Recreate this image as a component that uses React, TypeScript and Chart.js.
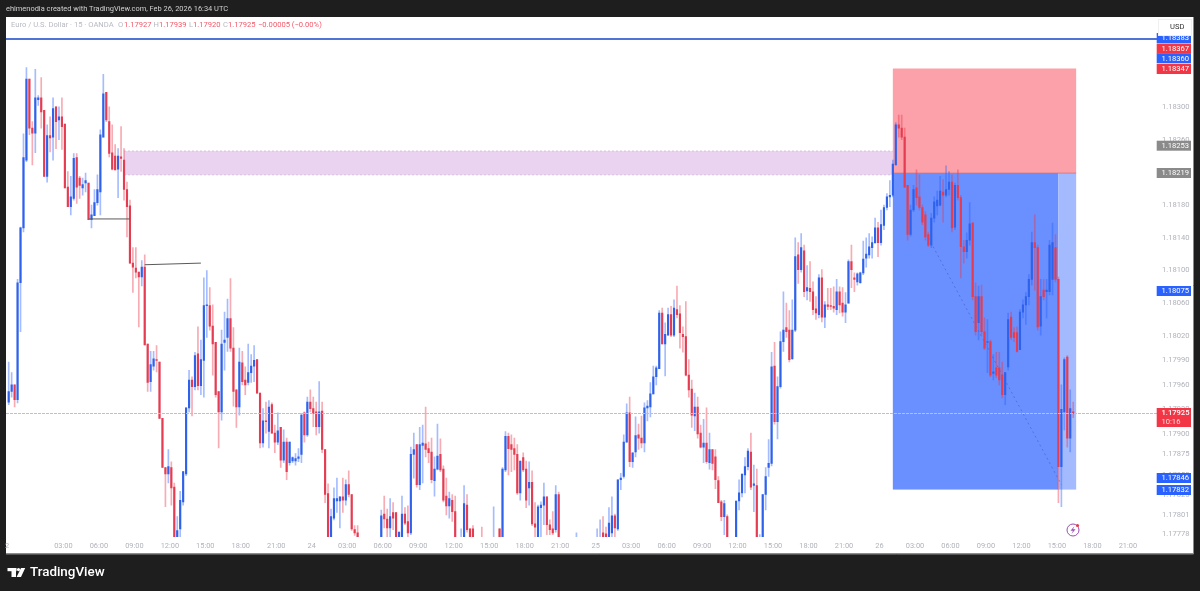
import React, { useEffect, useRef } from "react";
import { Chart, registerables } from "chart.js";

Chart.register(...registerables);

// Quotes are in 1/100000 above 1.0 (17939 = 1.17939)
const opens = [
17939,17952,17960,17942,18085,18152,18235,18334,18274,18268,
18309,18311,18296,18215,18265,18263,18300,18284,18288,18279,
18202,18178,18188,18238,18213,18201,18207,18207,18162,18167,
18183,18196,18263,18318,18282,18244,18240,18224,18239,18235,
18199,18179,18109,18103,18098,18092,18104,18010,17964,17983,
17991,17988,17919,17859,17851,17859,17835,17768,17784,17817,
17851,17932,17966,17958,17998,17959,17990,18057,18057,18032,
18012,17952,17927,18012,18018,18041,18005,17954,17933,17987,
17966,17963,17975,17983,17991,17950,17889,17916,17903,17936,
17901,17890,17908,17868,17890,17865,17867,17867,17870,17875,
17926,17899,17939,17931,17927,17909,17928,17881,17827,17770,
17797,17818,17818,17823,17819,17838,17826,17783,17779,17768,
17762,17760,17758,17762,17766,17768,17768,17802,17796,17785,
17804,17804,17770,17770,17802,17793,17779,17875,17887,17838,
17886,17888,17882,17878,17843,17857,17875,17857,17824,17812,
17819,17805,17770,17762,17770,17813,17784,17784,17770,17764,
17768,17760,17756,17758,17762,17770,17784,17770,17856,17897,
17887,17882,17875,17828,17871,17857,17834,17841,17790,17770,
17810,17813,17823,17789,17784,17783,17826,17770,17762,17756,
17752,17760,17765,17772,17764,17756,17760,17766,17762,17768,
17766,17779,17778,17770,17779,17800,17784,17844,17848,17890,
17926,17866,17878,17899,17895,17889,17932,17933,17949,17970,
17980,18048,18010,18021,18046,18021,18052,18047,18022,18019,
17972,17955,17922,17933,17901,17884,17889,17865,17881,17872,
17843,17817,17799,17799,17770,17766,17770,17818,17828,17850,
17860,17878,17837,17837,17768,17770,17826,17859,17864,17983,
17915,17958,18013,18030,18027,17992,18027,18119,18101,18124,
18075,18078,18074,18053,18046,18091,18043,18058,18057,18056,
18052,18074,18060,18049,18060,18111,18091,18086,18085,18097,
18115,18119,18128,18134,18152,18134,18155,18177,18190,18192,
18229,18278,18274,18263,18204,18144,18174,18201,18190,18177,
18168,18144,18131,18164,18179,18180,18196,18192,18199,18208,
18153,18204,18189,18129,18123,18137,18158,18068,18036,18068,
18025,18012,18013,17974,17981,17981,17972,17948,17982,18043,
18024,18024,18003,18049,18058,18068,18089,18134,18128,18032,
18076,18074,18074,18089,18128,18089,17860,17927,17994,17895,17927,
];
const highs = [
17988,17975,17960,18089,18153,18267,18348,18334,18282,18346,
18314,18336,18296,18278,18288,18311,18300,18300,18311,18279,
18221,18215,18243,18243,18215,18213,18219,18207,18180,18199,
18217,18272,18340,18318,18300,18278,18254,18249,18276,18249,
18208,18186,18128,18128,18098,18112,18119,18010,18001,18001,
18008,17988,17919,17859,17881,17866,17840,17799,17830,17854,
17932,17978,17970,18000,18031,18015,18091,18100,18079,18058,
18012,17952,18027,18049,18065,18090,18030,17954,18005,18001,
17982,18010,17997,18008,17991,17950,17931,17939,17941,17938,
17911,17926,17908,17905,17895,17890,17872,17876,17882,17925,
17927,17945,17954,17945,17939,17964,17939,17881,17839,17808,
17834,17846,17823,17846,17844,17855,17826,17788,17788,17772,
17770,17768,17766,17770,17772,17773,17807,17824,17808,17821,
17816,17804,17780,17824,17810,17812,17884,17901,17887,17908,
17911,17933,17890,17895,17872,17912,17894,17861,17846,17829,
17826,17824,17773,17784,17837,17826,17784,17788,17773,17772,
17786,17770,17768,17770,17811,17773,17784,17859,17903,17901,
17899,17895,17887,17867,17877,17867,17866,17855,17816,17813,
17817,17840,17823,17795,17805,17837,17829,17773,17772,17768,
17765,17770,17779,17773,17772,17768,17770,17772,17772,17784,
17795,17799,17786,17810,17823,17802,17844,17852,17899,17937,
17945,17877,17921,17912,17922,17938,17941,17963,17983,17983,
18051,18054,18036,18054,18056,18064,18081,18057,18031,18062,
17991,17966,17950,17945,17911,17918,17932,17901,17881,17881,
17848,17819,17819,17801,17773,17772,17818,17844,17851,17871,
17882,17901,17862,17857,17777,17826,17859,17893,18000,18012,
17970,18025,18074,18060,18051,18064,18140,18134,18145,18131,
18106,18111,18086,18068,18095,18101,18062,18078,18078,18080,
18089,18080,18079,18073,18113,18131,18097,18097,18098,18136,
18140,18145,18141,18164,18159,18174,18180,18194,18210,18235,
18281,18290,18290,18274,18204,18180,18204,18223,18217,18180,
18172,18147,18170,18190,18197,18215,18211,18228,18221,18217,
18207,18223,18192,18137,18146,18183,18159,18085,18081,18082,
18042,18040,18015,17997,18000,18000,17988,17975,18048,18049,
18030,18031,18052,18064,18073,18095,18147,18168,18131,18089,
18089,18089,18137,18158,18144,18092,17960,17993,17996,17954,17939,
];
const lows = [
17936,17945,17933,17938,18025,18147,18233,18266,18229,18244,
18302,18274,18215,18208,18245,18235,18249,18260,18248,18201,
18178,18168,18186,18182,18188,18192,18196,18162,18152,18167,
18180,18168,18263,18282,18239,18223,18223,18189,18221,18186,
18141,18109,18073,18091,18031,18081,18009,17952,17952,17978,
17976,17919,17859,17811,17840,17813,17770,17765,17772,17813,
17849,17927,17922,17954,17954,17948,17945,18018,18027,17972,
17945,17883,17917,17978,18001,18001,17934,17908,17923,17960,
17948,17960,17963,17964,17950,17883,17884,17901,17883,17901,
17877,17887,17859,17865,17844,17862,17865,17862,17866,17865,
17890,17897,17927,17909,17899,17901,17877,17816,17770,17768,
17795,17804,17785,17804,17813,17823,17782,17776,17770,17760,
17755,17752,17750,17756,17758,17760,17764,17785,17772,17772,
17783,17768,17766,17768,17789,17772,17777,17846,17835,17832,
17840,17872,17865,17840,17824,17856,17854,17817,17801,17797,
17793,17770,17760,17758,17768,17780,17768,17768,17760,17756,
17755,17752,17750,17752,17755,17760,17768,17768,17854,17850,
17854,17856,17826,17819,17854,17810,17813,17788,17772,17768,
17772,17789,17777,17777,17777,17780,17768,17758,17752,17748,
17746,17752,17755,17760,17752,17750,17754,17756,17755,17760,
17760,17770,17768,17768,17770,17772,17782,17832,17846,17890,
17860,17859,17872,17881,17883,17878,17916,17921,17949,17960,
17980,18010,17971,18021,18019,18019,18042,18005,18000,17971,
17945,17908,17904,17895,17883,17865,17864,17857,17856,17833,
17816,17794,17777,17770,17760,17758,17768,17807,17823,17828,
17856,17832,17805,17770,17760,17768,17807,17848,17861,17912,
17894,17956,18001,18018,17988,17991,18025,18084,18098,18068,
18064,18062,18046,18040,18042,18037,18030,18052,18052,18049,
18046,18048,18044,18036,18060,18079,18074,18082,18084,18095,
18104,18115,18115,18133,18117,18131,18150,18174,18178,18190,
18229,18263,18260,18202,18137,18142,18172,18180,18174,18156,
18137,18129,18128,18159,18168,18179,18159,18190,18192,18147,
18150,18186,18091,18109,18115,18131,18064,18021,18015,18021,
18003,17975,17970,17966,17969,17960,17944,17936,17978,18015,
18013,18000,18003,18042,18034,18058,18082,18076,18027,18021,
18064,18042,18070,18070,18086,17816,17811,17905,17884,17878,17920,
];
const closes = [
17952,17960,17942,18085,18152,18238,18334,18274,18268,18311,
18311,18294,18215,18265,18262,18298,18282,18288,18276,18201,
18178,18190,18237,18202,18204,18205,18210,18162,18168,18183,
18199,18266,18316,18284,18243,18224,18223,18240,18237,18199,
18178,18109,18104,18098,18092,18104,18009,17963,17985,17992,
17990,17919,17859,17851,17860,17834,17770,17782,17819,17854,
17932,17966,17958,17996,17959,17991,18057,18058,18032,18010,
17948,17927,18010,18015,18041,18005,17952,17933,17988,17964,
17960,17975,17983,17990,17950,17889,17916,17915,17933,17901,
17890,17904,17868,17890,17854,17890,17871,17870,17872,17923,
17899,17939,17931,17925,17909,17927,17881,17826,17770,17799,
17821,17821,17823,17819,17838,17826,17784,17779,17770,17762,
17760,17758,17762,17766,17768,17770,17800,17796,17785,17799,
17797,17768,17780,17802,17791,17779,17875,17881,17838,17887,
17889,17881,17877,17844,17857,17873,17856,17819,17812,17821,
17805,17770,17765,17772,17815,17783,17770,17770,17764,17760,
17760,17756,17758,17762,17770,17766,17770,17857,17897,17882,
17881,17875,17828,17867,17856,17819,17841,17790,17786,17811,
17813,17823,17789,17783,17779,17826,17770,17762,17756,17752,
17760,17765,17772,17764,17756,17760,17766,17762,17768,17772,
17772,17772,17770,17791,17800,17785,17844,17846,17890,17926,
17866,17877,17898,17895,17889,17932,17934,17949,17970,17981,
18048,18010,18022,18046,18021,18054,18046,18024,18019,17972,
17954,17923,17933,17900,17884,17889,17866,17881,17864,17844,
17816,17799,17815,17770,17766,17770,17818,17828,17851,17860,
17879,17835,17839,17770,17772,17826,17848,17864,17982,17915,
17958,18013,18027,18025,17991,18027,18117,18101,18128,18074,
18079,18074,18052,18048,18091,18043,18058,18056,18056,18054,
18074,18058,18049,18058,18111,18101,18089,18096,18097,18114,
18120,18129,18134,18152,18134,18156,18177,18190,18192,18230,
18278,18274,18263,18202,18144,18174,18199,18189,18177,18159,
18141,18131,18164,18184,18186,18197,18192,18199,18208,18152,
18204,18189,18129,18123,18137,18157,18068,18025,18068,18025,
18005,18013,17972,17976,17972,17966,17948,17975,18040,18018,
18018,18001,18049,18058,18068,18089,18134,18128,18031,18068,
18068,18076,18131,18134,18089,17860,17930,17991,17895,17931,17925,
];

const timeLabels = ["2","03:00","06:00","09:00","12:00","15:00","18:00","21:00","24","03:00","06:00","09:00","12:00","15:00","18:00","21:00","25","03:00","06:00","09:00","12:00","15:00","18:00","21:00","26","03:00","06:00","09:00","12:00","15:00","18:00","21:00"];
const timeSlots = [1,20,32,44,56,68,80,92,104,116,128,140,152,164,176,188,200,212,224,236,248,260,272,284,296,308,320,332,344,356,368,380];
const priceTicks = [1.183,1.1826,1.1822,1.1818,1.1814,1.181,1.1806,1.1802,1.1799,1.1796,1.1793,1.179,1.17875,1.1785,1.17825,1.17801,1.17778];

const SLOT_COUNT = 390;
const UP = "#2f62ea";
const DOWN = "#e43d52";
const UP_WICK = "rgba(41,98,255,0.42)";
const DOWN_WICK = "rgba(235,54,75,0.42)";
const px = (q: number) => 1 + q / 100000;

// Drawing tools (prices and slot numbers)
const zonePurple = { from: 40, to: 300, top: 1.18246, bottom: 1.18217 };
const position = { from: 300, to: 362, stripFrom: 356, stop: 1.18347, entry: 1.18219, target: 1.17832 };
const trendA = { from: 28, to: 42, a: 1.18163, b: 1.18163 };
const trendB = { from: 47, to: 66, a: 1.18107, b: 1.18109 };
const dashed = { from: 312, to: 357, a: 1.1814, b: 1.17838 };
const topLinePrice = 1.18383;
const lastPrice = 1.17925;

const tags = [
  { t: "1.18383", c: "#2962ff", y: 38 },
  { t: "1.18367", c: "#f23645", y: 48.5 },
  { t: "1.18360", c: "#2962ff", y: 58.3 },
  { t: "1.18347", c: "#f23645", y: 69 },
  { t: "1.18253", c: "#8a8a8a", y: 145.7 },
  { t: "1.18219", c: "#8a8a8a", y: 173 },
  { t: "1.18075", c: "#2962ff", y: 291 },
  { t: "1.17846", c: "#2962ff", y: 478 },
  { t: "1.17832", c: "#2962ff", y: 490 },
];

const FONT = "Roboto";

const slotOf = (i: number) => i + 1;

export default function App() {
  const ref = useRef<HTMLCanvasElement>(null);
  useEffect(() => {
    document.body.style.margin = "0";
    document.body.style.background = "#1e1e1e";
    const ctx = ref.current!.getContext("2d")!;
    const labels = Array.from({ length: SLOT_COUNT }, (_, i) => String(i));
    const wicks: any[] = labels.map(() => null);
    const bodies: any[] = labels.map(() => null);
    const wickCol: string[] = labels.map(() => UP_WICK);
    const bodyCol: string[] = labels.map(() => UP);
    opens.forEach((o, i) => {
      const s = slotOf(i);
      const up = closes[i] >= o;
      wicks[s] = [px(lows[i]), px(highs[i])];
      bodies[s] = [px(o), px(closes[i])];
      wickCol[s] = up ? UP_WICK : DOWN_WICK;
      bodyCol[s] = up ? UP : DOWN;
    });

    const text = (c: CanvasRenderingContext2D, s: string, x: number, y: number, col: string, font: string, align: CanvasTextAlign = "left") => {
      c.fillStyle = col;
      c.font = font;
      c.textAlign = align;
      c.textBaseline = "middle";
      c.fillText(s, x, y);
    };

    const chrome = {
      id: "chrome",
      beforeDraw(ch: any) {
        const c = ch.ctx;
        c.save();
        c.fillStyle = "#1e1e1e";
        c.fillRect(0, 0, 1200, 591);
        c.fillStyle = "#ffffff";
        c.fillRect(6, 17, 1187, 536.5);
        c.strokeStyle = "#8a8a8a";
        c.lineWidth = 1;
        c.beginPath();
        c.moveTo(1193.5, 17);
        c.lineTo(1193.5, 554);
        c.lineTo(6, 554);
        c.stroke();
        c.restore();
      },
      beforeDatasetsDraw(ch: any) {
        const c = ch.ctx;
        const X = (j: number) => ch.scales.x.getPixelForValue(j);
        const Y = (p: number) => ch.scales.y.getPixelForValue(p);
        c.save();
        // purple zone
        c.fillStyle = "#ead3f1";
        c.fillRect(X(zonePurple.from), Y(zonePurple.top), X(zonePurple.to) - X(zonePurple.from), Y(zonePurple.bottom) - Y(zonePurple.top));
        c.strokeStyle = "#d8bce2";
        c.setLineDash([2, 2]);
        c.lineWidth = 1;
        c.beginPath();
        c.moveTo(X(zonePurple.from), Y(zonePurple.top));
        c.lineTo(X(zonePurple.to), Y(zonePurple.top));
        c.moveTo(X(zonePurple.from), Y(zonePurple.bottom));
        c.lineTo(X(zonePurple.to), Y(zonePurple.bottom));
        c.stroke();
        c.setLineDash([]);
        // position tool
        c.fillStyle = "#fca0a9";
        c.fillRect(X(position.from), Y(position.stop), X(position.to) - X(position.from), Y(position.entry) - Y(position.stop));
        c.fillStyle = "#6a90ff";
        c.fillRect(X(position.from), Y(position.entry), X(position.stripFrom) - X(position.from), Y(position.target) - Y(position.entry));
        c.fillStyle = "#a3baff";
        c.fillRect(X(position.stripFrom), Y(position.entry), X(position.to) - X(position.stripFrom), Y(position.target) - Y(position.entry));
        c.strokeStyle = "rgba(150,90,110,0.5)";
        c.beginPath();
        c.moveTo(X(position.from), Y(position.entry));
        c.lineTo(X(position.to), Y(position.entry));
        c.stroke();
        // dashed trade line
        c.strokeStyle = "rgba(40,70,170,0.4)";
        c.setLineDash([2, 3]);
        c.beginPath();
        c.moveTo(X(dashed.from), Y(dashed.a));
        c.lineTo(X(dashed.to), Y(dashed.b));
        c.stroke();
        c.setLineDash([]);
        c.restore();
      },
      afterDatasetsDraw(ch: any) {
        const c = ch.ctx;
        const X = (j: number) => ch.scales.x.getPixelForValue(j);
        const Y = (p: number) => ch.scales.y.getPixelForValue(p);
        c.save();
        // level lines
        c.strokeStyle = "#5a5a5a";
        c.lineWidth = 1;
        [trendA, trendB].forEach((l) => {
          c.beginPath();
          c.moveTo(X(l.from), Y(l.a));
          c.lineTo(X(l.to), Y(l.b));
          c.stroke();
        });
        // last price line
        c.strokeStyle = "#f6a7b0";
        c.setLineDash([3, 1]);
        c.beginPath();
        const ly = Math.round(Y(lastPrice)) - 0.5;
        c.moveTo(6, ly);
        c.lineTo(1157, ly);
        c.stroke();
        c.setLineDash([]);
        // top horizontal line
        c.strokeStyle = "#4f74d4";
        c.lineWidth = 2;
        c.beginPath();
        c.moveTo(6, Y(topLinePrice));
        c.lineTo(1157, Y(topLinePrice));
        c.stroke();
        // price tags
        tags.forEach((g) => {
          c.fillStyle = g.c;
          c.fillRect(1156.7, g.y - 5, 34.3, 10);
          text(c, g.t, 1161.5, g.y + 0.3, "#ffffff", `7.6px ${FONT}`);
        });
        c.fillStyle = "#f23645";
        c.fillRect(1156.7, 408, 34.3, 19);
        text(c, "1.17925", 1161.5, 413.5, "#ffffff", `500 7.6px ${FONT}`);
        text(c, "10:16", 1161.5, 422, "#ffd9dc", `7.6px ${FONT}`);
        // USD box
        c.fillStyle = "#ffffff";
        c.fillRect(1158, 19, 34, 17);
        c.strokeStyle = "#f0f0f0";
        c.lineWidth = 1;
        c.strokeRect(1158.5, 19.5, 33, 16);
        text(c, "USD", 1170, 27.5, "#333333", `7.6px ${FONT}`);
        // header strip
        text(c, "ehimenodia created with TradingView.com, Feb 26, 2026 16:34 UTC", 6, 9, "#d0d0d0", `7.45px ${FONT}`);
        // legend
        const gray = "#b8bac2";
        const red = "#f0596a";
        const lf = `7.6px ${FONT}`;
        text(c, "Euro / U.S. Dollar · 15 · OANDA", 11, 25.5, gray, lf);
        text(c, "O", 118, 25.5, gray, lf);
        text(c, "1.17927", 124, 25.5, red, lf);
        text(c, "H", 153.5, 25.5, gray, lf);
        text(c, "1.17939", 159, 25.5, red, lf);
        text(c, "L", 189, 25.5, gray, lf);
        text(c, "1.17920", 193, 25.5, red, lf);
        text(c, "C", 223, 25.5, gray, lf);
        text(c, "1.17925", 228, 25.5, red, lf);
        text(c, "−0.00005 (−0.00%)", 258, 25.5, red, lf);
        // lightning badge
        c.strokeStyle = "#9c4fb0";
        c.lineWidth = 1;
        c.beginPath();
        c.arc(1073, 530, 6, 0, Math.PI * 2);
        c.stroke();
        c.fillStyle = "#9c4fb0";
        c.beginPath();
        c.moveTo(1074.5, 526);
        c.lineTo(1070.5, 530.8);
        c.lineTo(1073, 530.8);
        c.lineTo(1071.5, 534);
        c.lineTo(1075.5, 529.2);
        c.lineTo(1073, 529.2);
        c.closePath();
        c.fill();
        c.fillStyle = "#f23645";
        c.beginPath();
        c.arc(1077.5, 525.5, 1.6, 0, Math.PI * 2);
        c.fill();
        // logo
        c.fillStyle = "#ffffff";
        c.fillRect(7.5, 568, 9, 3.2);
        c.fillRect(11.5, 568, 4.5, 9);
        c.beginPath();
        c.arc(18.5, 569.6, 1.6, 0, Math.PI * 2);
        c.fill();
        c.beginPath();
        c.moveTo(21, 568);
        c.lineTo(25.2, 568);
        c.lineTo(21, 577);
        c.lineTo(16.6, 577);
        c.closePath();
        c.fill();
        text(c, "TradingView", 30, 572.5, "#ffffff", `500 13.4px ${FONT}`);
        c.restore();
      },
    };

    const chart = new Chart(ctx, {
      type: "bar",
      data: {
        labels,
        datasets: [
          { label: "Wicks", data: wicks, backgroundColor: wickCol, barThickness: 1, grouped: false, order: 2 } as any,
          { label: "Bodies", data: bodies, backgroundColor: bodyCol, barThickness: 1.5, grouped: false, order: 1 } as any,
        ],
      },
      options: {
        responsive: false,
        animation: false,
        layout: { padding: { left: 5.74, top: 17, right: 6, bottom: 37 } },
        plugins: { legend: { display: false }, tooltip: { enabled: false } },
        scales: {
          x: {
            offset: false,
            grid: { display: false, drawTicks: false },
            border: { display: false },
            afterFit: (s: any) => { s.height = 17; },
            ticks: {
              autoSkip: false,
              maxRotation: 0,
              minRotation: 0,
              labelOffset: -1.5,
              padding: 5,
              color: "#b0b3bb",
              font: { family: FONT, size: 7.4 },
              callback: (_: any, i: number) => {
                const at = timeSlots.indexOf(i);
                return at >= 0 ? timeLabels[at] : "";
              },
            },
          },
          y: {
            position: "right",
            min: 1.17774,
            max: 1.1841,
            grid: { display: false, drawTicks: false },
            border: { display: false },
            afterFit: (s: any) => { s.width = 38; },
            afterBuildTicks: (s: any) => { s.ticks = priceTicks.map((value) => ({ value })); },
            ticks: {
              padding: 6,
              color: "#b0b3bb",
              font: { family: FONT, size: 7.6 },
              callback: (v: any) => Number(v).toFixed(5),
            },
          },
        },
      },
      plugins: [chrome as any],
    });
    return () => chart.destroy();
  }, []);
  return <canvas ref={ref} width={1200} height={591} style={{ position: "fixed", left: 0, top: 0, width: 1200, height: 591 }} />;
}
